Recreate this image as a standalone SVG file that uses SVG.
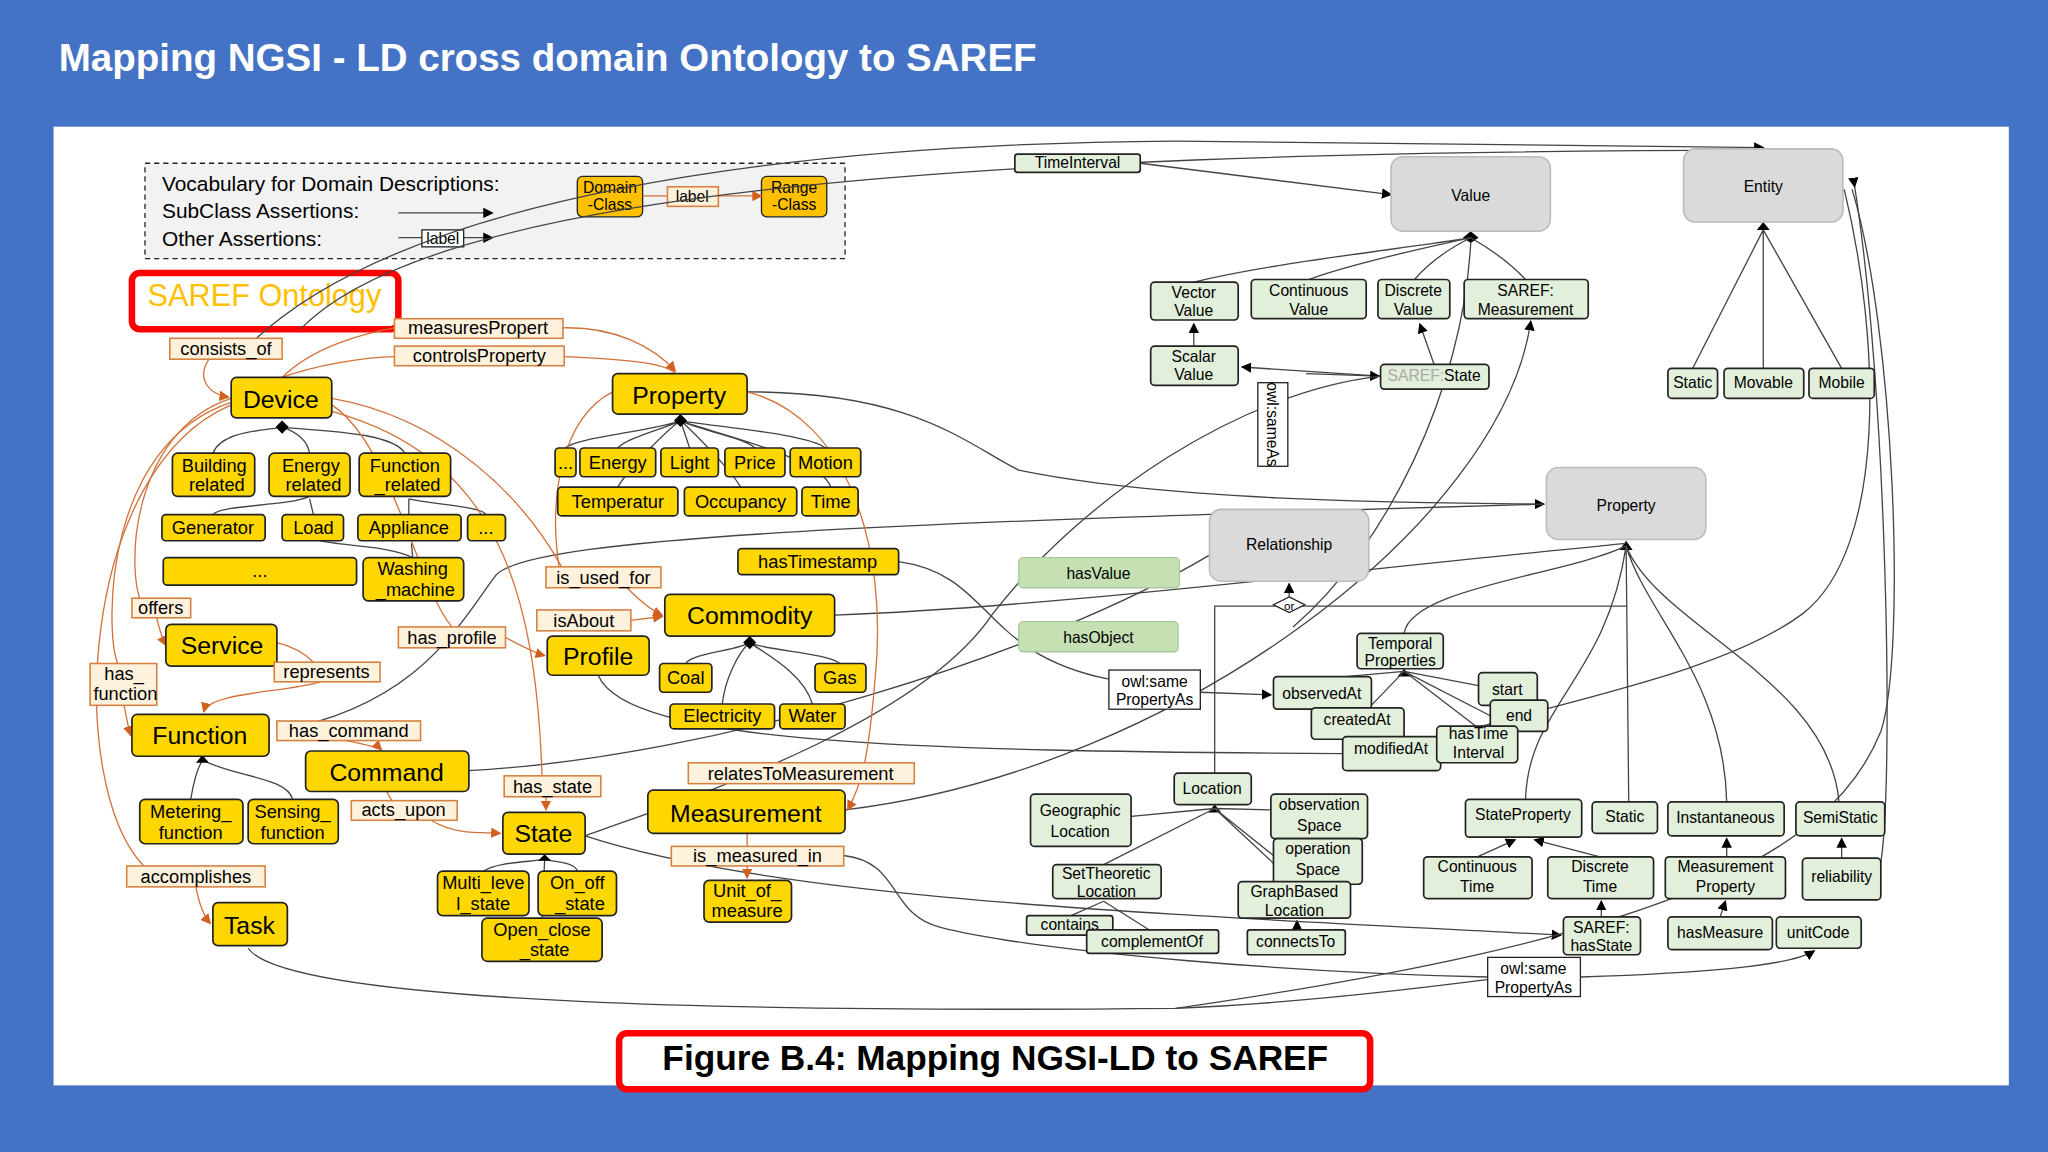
<svg xmlns="http://www.w3.org/2000/svg" width="2048" height="1152" viewBox="0 0 2048 1152">
<defs>
<style>
text{font-family:"Liberation Sans",Arial,sans-serif;}
.y{fill:#FFD700;stroke:#222;stroke-width:1.3}
.g{fill:#E2EFDA;stroke:#222;stroke-width:1.3}
.gr{fill:#DADADA;stroke:#bbb;stroke-width:1.2}
.hv{fill:#C6E0B4;stroke:#a9c99a;stroke-width:1}
.l{fill:#FFF2DC;stroke:#D7803F;stroke-width:1.2}
.w{fill:#fff;stroke:#222;stroke-width:1}
.ty{font-size:19px;fill:#000;text-anchor:middle}
.ts{font-size:14px;fill:#000;text-anchor:middle}
.tl{font-size:14px;fill:#000;text-anchor:middle}
.tg{font-size:12px;fill:#000;text-anchor:middle}
.k{fill:none;stroke:#444;stroke-width:1}
.o{fill:none;stroke:#D2713A;stroke-width:1}
</style>
<marker id="ab" markerWidth="8" markerHeight="8" refX="7" refY="4" orient="auto" markerUnits="userSpaceOnUse"><path d="M0,0 L8,4 L0,8 z" fill="#000"/></marker>
<marker id="ao" markerWidth="8" markerHeight="8" refX="7" refY="4" orient="auto" markerUnits="userSpaceOnUse"><path d="M0,0 L8,4 L0,8 z" fill="#D2601E"/></marker>
</defs>
<rect width="2048" height="1152" fill="#4472C4"/>
<g transform="scale(1.30612)">
<text x="45" y="54" font-size="29.5" font-weight="bold" fill="#fff">Mapping NGSI - LD cross domain Ontology to SAREF</text>
<rect x="41" y="97" width="1497" height="734" fill="#fff"/>

<g id="legend">
<rect x="111" y="125" width="536" height="73" fill="#f2f2f2" stroke="#222" stroke-dasharray="4,3"/>
<text x="124" y="146" font-size="16">Vocabulary for Domain Descriptions:</text>
<text x="124" y="167" font-size="16">SubClass Assertions:</text>
<text x="124" y="188" font-size="16">Other Assertions:</text>
<line x1="305" y1="163" x2="377" y2="163" class="k" marker-end="url(#ab)"/>
<line x1="305" y1="182" x2="377" y2="182" class="k" marker-end="url(#ab)"/>
<rect x="323" y="176" width="32" height="13" class="w"/><text x="339" y="187" font-size="12" text-anchor="middle">label</text>
<rect x="442" y="135" width="50" height="31" rx="4" fill="#FFC000" stroke="#222"/><text x="467" y="148" class="tg">Domain</text><text x="467" y="161" class="tg">-Class</text>
<rect x="583" y="135" width="50" height="31" rx="4" fill="#FFC000" stroke="#222"/><text x="608" y="148" class="tg">Range</text><text x="608" y="161" class="tg">-Class</text>
<line x1="492" y1="150" x2="583" y2="150" class="o" marker-end="url(#ao)"/>
<rect x="511" y="143" width="39" height="15" class="l"/><text x="530" y="155" class="tg">label</text>
</g>
<g id="saref-title"><rect x="101" y="209" width="204" height="43" rx="6" fill="#fff" stroke="#FF0000" stroke-width="5"/><text x="113" y="234" font-size="23.5" fill="#FFC000">SAREF Ontology</text></g>

<g id="connectors">
<path class="k" d="M185,270 C300,150 600,110 900,108 L1350,113" marker-end="url(#ab)"/>
<path class="k" d="M230,252 C330,150 700,116 1350,115"/>
<path class="k" d="M873,125 L1065,149" marker-end="url(#ab)"/>
<path class="k" d="M163,347 C170,330 200,330 216,327 M237,347 C235,335 225,330 216,327 M310,347 C300,330 240,330 216,327"/>
<path class="k" d="M163,394 C170,386 220,388 237,380 M240,394 L237,382 M313,394 L313,382 M372,394 C370,388 330,386 313,382" />
<path class="k" d="M316,427 C300,418 260,418 245,414 M316,427 L315,416"/>
<path class="k" d="M433,343 C440,335 500,330 521,322 M473,343 C480,335 510,328 521,322 M528,343 L521,322 M578,343 C570,335 530,328 521,322 M632,343 C620,332 540,326 521,322 M473,373 C480,360 510,330 521,322 M567,373 C560,360 530,330 521,322 M636,373 C630,350 540,330 521,322"/>
<path class="k" d="M525,508 C530,500 565,498 574,492 M643,508 C635,500 585,498 574,492 M553,539 C555,520 565,500 574,492 M622,539 C615,515 585,500 574,492"/>
<path class="k" d="M146,612 C148,600 150,590 155,582 M224,612 C220,595 180,595 155,582"/>
<path class="k" d="M370,667 C380,660 405,660 417,658 M442,667 C440,660 425,660 417,658 M415,703 L417,658"/>
<path d="M216,322 L221,327 L216,332 L211,327 z M521,317 L526,322 L521,327 L516,322 z M574,487 L579,492 L574,497 L569,492 z M155,578 L160,584 L150,584 z M417,654 L422,659 L412,659 z M1126,177 L1132,182 L1126,186 L1120,182 z M1350,170 L1355,176 L1345,176 z M1245,414 L1250,421 L1240,421 z M930,616 L935,622 L925,622 z M1075,512 L1080,518 L1070,518 z" fill="#000"/>
<path class="k" d="M914,216 C980,200 1080,190 1126,182 M1002,214 C1040,200 1100,188 1126,182 M1083,214 C1095,200 1110,190 1126,182 M1168,214 C1155,200 1140,190 1126,182"/>
<path class="k" d="M914,265 L914,248" marker-end="url(#ab)"/>
<path class="k" d="M1057,288 L951,281" marker-end="url(#ab)"/>
<path class="k" d="M1000,286 L1056,288" marker-end="url(#ab)"/>
<path class="k" d="M1098,279 L1087,248" marker-end="url(#ab)"/>
<path class="k" d="M1057,288 C950,300 830,380 760,470 C700,560 500,620 448,640"/>
<path class="k" d="M1296,282 L1350,176 M1350,282 L1350,176 M1410,282 L1350,176"/>
<path class="k" d="M572,300 C700,300 740,340 780,360 C900,385 1100,385 1182,386" marker-end="url(#ab)"/>
<path class="k" d="M212,560 C320,540 350,480 380,440 C410,410 700,400 1182,386"/>
<path class="k" d="M639,471 C800,465 1000,440 1245,416"/>
<path class="k" d="M688,430 C760,440 750,500 849,520"/>
<path class="k" d="M919,530 L973,532" marker-end="url(#ab)"/>
<path class="k" d="M1030,518 L1075,514 M1048,542 L1075,514 M1132,525 L1075,514 M1141,548 L1075,514 M1130,556 L1075,514"/>
<path class="k" d="M1075,485 C1080,450 1200,440 1245,418"/>
<path class="k" d="M1168,612 C1170,540 1230,520 1245,418 M1247,614 L1245,418 M1322,614 C1320,520 1260,470 1245,418 M1408,614 C1400,520 1270,480 1245,418"/>
<path class="k" d="M930,592 L930,464 L1245,464"/>
<path d="M987,457 L999,463 L987,469 L975,463 z" fill="#fff" stroke="#222"/>
<text x="987" y="467" font-size="9" text-anchor="middle">or</text>
<path class="k" d="M987,457 L987,447" marker-end="url(#ab)"/>
<path class="k" d="M866,625 L930,619 M973,620 L930,619 M975,655 L930,619 M845,662 L930,619 M990,675 L930,619"/>
<path class="k" d="M820,701 L845,690 M880,712 L845,690" />
<path class="k" d="M993,712 L993,705" marker-end="url(#ab)"/>
<path class="k" d="M1131,656 L1160,643" marker-end="url(#ab)"/>
<path class="k" d="M1225,656 L1175,643" marker-end="url(#ab)"/>
<path class="k" d="M1226,702 L1226,690" marker-end="url(#ab)"/>
<path class="k" d="M1322,656 L1322,642" marker-end="url(#ab)"/>
<path class="k" d="M1317,702 L1321,690" marker-end="url(#ab)"/>
<path class="k" d="M1410,657 L1410,642" marker-end="url(#ab)"/>
<path class="k" d="M1210,748 C1300,745 1370,740 1389,728" marker-end="url(#ab)"/>
<path class="k" d="M190,726 C220,770 600,775 900,772 C1000,768 1100,755 1139,750"/>
<path class="k" d="M448,640 C600,690 900,700 1195,716" marker-end="url(#ab)"/>
<path class="k" d="M647,620 C900,590 1150,400 1172,246" marker-end="url(#ab)"/>
<path class="k" d="M359,590 C550,580 800,500 926,425"/>
<path class="k" d="M458,517 C480,570 700,575 1028,577"/>
<path class="k" d="M646,655 C690,660 680,700 720,710 C800,730 1000,745 1139,748"/>
<path class="k" d="M1418,145 C1450,250 1460,500 1440,560 C1400,660 1260,720 900,772"/>
<path class="k" d="M1412,145 C1440,260 1445,420 1380,470 C1300,530 1100,550 1050,590"/>
<path class="k" d="M1420,143 C1445,300 1450,600 1440,660" marker-start="url(#ab)"/>
<path class="k" d="M1126,186 C1120,300 1060,420 990,480"/>
<path class="o" d="M160,275 C150,290 160,302 175,304" marker-end="url(#ao)"/>
<path class="o" d="M216,289 C240,265 280,255 302,251 M431,251 C470,250 500,265 517,284" marker-end="url(#ao)"/>
<path class="o" d="M216,289 C240,280 280,273 302,273 M432,273 C480,275 510,278 517,286"/>
<path class="o" d="M177,305 C100,330 95,440 110,465 M120,473 C122,482 124,488 127,494" marker-end="url(#ao)"/>
<path class="o" d="M177,308 C80,340 80,480 90,508 M95,540 C97,550 98,556 100,563" marker-end="url(#ao)"/>
<path class="o" d="M177,310 C60,360 50,600 110,663 M150,679 C152,690 155,700 161,707" marker-end="url(#ao)"/>
<path class="o" d="M212,492 C225,495 235,502 240,507 M245,522 C220,530 160,530 156,545" marker-end="url(#ao)"/>
<path class="o" d="M254,310 C300,340 320,450 346,480 M387,488 C400,495 410,500 417,502" marker-end="url(#ao)"/>
<path class="o" d="M254,305 C340,320 400,380 430,434 M480,450 C490,460 500,468 507,471" marker-end="url(#ao)"/>
<path class="o" d="M483,475 L507,472" marker-end="url(#ao)"/>
<path class="o" d="M572,300 C650,320 680,420 670,520 C665,580 660,600 649,620" marker-end="url(#ao)"/>
<path class="o" d="M469,300 C430,320 420,380 428,434"/>
<path class="o" d="M265,567 C280,570 290,572 292,574" marker-end="url(#ao)"/>
<path class="o" d="M296,606 L300,613 M330,628 C350,640 370,637 383,638" marker-end="url(#ao)"/>
<path class="o" d="M254,315 C380,350 410,450 415,594 M418,610 L418,620" marker-end="url(#ao)"/>
<path class="o" d="M572,638 L572,648 M572,663 L572,672" marker-end="url(#ao)"/>
</g>

<g id="device"><rect x="177" y="289" width="77" height="31" rx="4" class="y"/><text x="215" y="312" class="ty" font-size="21">Device</text></g>
<g id="property-y"><rect x="469" y="286" width="103" height="31" rx="4" class="y"/><text x="520" y="309" class="ty" font-size="21">Property</text></g>
<g id="building"><rect x="132" y="347" width="63" height="33" rx="4" class="y"/><text x="164" y="361" class="ts">Building</text><text x="166" y="376" class="ts">related</text></g>
<g id="energy-rel"><rect x="206" y="347" width="62" height="33" rx="4" class="y"/><text x="238" y="361" class="ts">Energy</text><text x="240" y="376" class="ts">related</text></g>
<g id="function-rel"><rect x="275" y="347" width="70" height="33" rx="4" class="y"/><text x="310" y="361" class="ts">Function</text><text x="312" y="376" class="ts">_related</text></g>
<g id="generator"><rect x="124" y="394" width="79" height="20" rx="3" class="y"/><text x="163" y="409" class="ts">Generator</text></g>
<g id="load"><rect x="216" y="394" width="47" height="20" rx="3" class="y"/><text x="240" y="409" class="ts">Load</text></g>
<g id="appliance"><rect x="274" y="394" width="79" height="20" rx="3" class="y"/><text x="313" y="409" class="ts">Appliance</text></g>
<g id="dots1"><rect x="358" y="394" width="29" height="20" rx="3" class="y"/><text x="372" y="409" class="ts">...</text></g>
<g id="dots2"><rect x="125" y="427" width="148" height="21" rx="3" class="y"/><text x="199" y="442" class="ts">...</text></g>
<g id="washing"><rect x="278" y="427" width="77" height="33" rx="4" class="y"/><text x="316" y="440" class="ts">Washing</text><text x="318" y="456" class="ts">_machine</text></g>
<g id="p-dots"><rect x="425" y="343" width="16" height="22" rx="3" class="y"/><text x="433" y="359" class="ts">...</text></g>
<g id="p-energy"><rect x="444" y="343" width="58" height="22" rx="3" class="y"/><text x="473" y="359" class="ts">Energy</text></g>
<g id="p-light"><rect x="506" y="343" width="44" height="22" rx="3" class="y"/><text x="528" y="359" class="ts">Light</text></g>
<g id="p-price"><rect x="555" y="343" width="46" height="22" rx="3" class="y"/><text x="578" y="359" class="ts">Price</text></g>
<g id="p-motion"><rect x="605" y="343" width="54" height="22" rx="3" class="y"/><text x="632" y="359" class="ts">Motion</text></g>
<g id="p-temp"><rect x="427" y="373" width="92" height="22" rx="3" class="y"/><text x="473" y="389" class="ts">Temperatur</text></g>
<g id="p-occ"><rect x="524" y="373" width="86" height="22" rx="3" class="y"/><text x="567" y="389" class="ts">Occupancy</text></g>
<g id="p-time"><rect x="614" y="373" width="43" height="22" rx="3" class="y"/><text x="636" y="389" class="ts">Time</text></g>
<g id="hastimestamp"><rect x="565" y="420" width="123" height="20" rx="3" class="y"/><text x="626" y="435" class="ts">hasTimestamp</text></g>
<g id="service"><rect x="127" y="478" width="85" height="32" rx="4" class="y"/><text x="170" y="501" class="ty">Service</text></g>
<g id="commodity"><rect x="509" y="455" width="130" height="32" rx="4" class="y"/><text x="574" y="478" class="ty" font-size="21">Commodity</text></g>
<g id="profile"><rect x="419" y="487" width="78" height="30" rx="4" class="y"/><text x="458" y="509" class="ty">Profile</text></g>
<g id="coal"><rect x="505" y="508" width="40" height="22" rx="3" class="y"/><text x="525" y="524" class="ts">Coal</text></g>
<g id="gas"><rect x="624" y="508" width="39" height="22" rx="3" class="y"/><text x="643" y="524" class="ts">Gas</text></g>
<g id="electricity"><rect x="513" y="539" width="80" height="19" rx="3" class="y"/><text x="553" y="553" class="ts">Electricity</text></g>
<g id="water"><rect x="597" y="539" width="50" height="19" rx="3" class="y"/><text x="622" y="553" class="ts">Water</text></g>
<g id="function"><rect x="101" y="547" width="105" height="32" rx="4" class="y"/><text x="153" y="570" class="ty">Function</text></g>
<g id="command"><rect x="234" y="575" width="125" height="31" rx="4" class="y"/><text x="296" y="598" class="ty">Command</text></g>
<g id="measurement"><rect x="496" y="605" width="151" height="33" rx="4" class="y"/><text x="571" y="629" class="ty" font-size="21">Measurement</text></g>
<g id="metering"><rect x="107" y="612" width="79" height="34" rx="4" class="y"/><text x="146" y="626" class="ts">Metering_</text><text x="146" y="642" class="ts">function</text></g>
<g id="sensing"><rect x="190" y="612" width="69" height="34" rx="4" class="y"/><text x="224" y="626" class="ts">Sensing_</text><text x="224" y="642" class="ts">function</text></g>
<g id="state"><rect x="385" y="622" width="63" height="32" rx="4" class="y"/><text x="416" y="645" class="ty">State</text></g>
<g id="unit"><rect x="539" y="674" width="67" height="32" rx="4" class="y"/><text x="572" y="687" class="ts">Unit_of_</text><text x="572" y="702" class="ts">measure</text></g>
<g id="multi"><rect x="335" y="667" width="70" height="34" rx="4" class="y"/><text x="370" y="681" class="ts">Multi_leve</text><text x="370" y="697" class="ts">l_state</text></g>
<g id="onoff"><rect x="412" y="667" width="60" height="34" rx="4" class="y"/><text x="442" y="681" class="ts">On_off</text><text x="444" y="697" class="ts">_state</text></g>
<g id="openclose"><rect x="369" y="703" width="92" height="33" rx="4" class="y"/><text x="415" y="717" class="ts">Open_close</text><text x="417" y="732" class="ts">_state</text></g>
<g id="task"><rect x="163" y="691" width="57" height="33" rx="4" class="y"/><text x="191" y="715" class="ty">Task</text></g>

<g id="lbl-measures"><rect x="302" y="244" width="129" height="15" class="l"/><text x="366" y="256" class="tl">measuresPropert</text></g>
<g id="lbl-controls"><rect x="302" y="265" width="130" height="15" class="l"/><text x="367" y="277" class="tl">controlsProperty</text></g>
<g id="lbl-consists"><rect x="130" y="259" width="86" height="16" class="l"/><text x="173" y="272" class="tl">consists_of</text></g>
<g id="lbl-isused"><rect x="418" y="434" width="88" height="16" class="l"/><text x="462" y="447" class="tl">is_used_for</text></g>
<g id="lbl-offers"><rect x="101" y="458" width="45" height="15" class="l"/><text x="123" y="470" class="tl">offers</text></g>
<g id="lbl-hasfunction"><rect x="69" y="508" width="51" height="32" class="l"/><text x="95" y="521" class="tl">has_</text><text x="96" y="536" class="tl">function</text></g>
<g id="lbl-represents"><rect x="210" y="507" width="81" height="15" class="l"/><text x="250" y="519" class="tl">represents</text></g>
<g id="lbl-isabout"><rect x="411" y="467" width="72" height="16" class="l"/><text x="447" y="480" class="tl">isAbout</text></g>
<g id="lbl-hasprofile"><rect x="305" y="480" width="82" height="16" class="l"/><text x="346" y="493" class="tl">has_profile</text></g>
<g id="lbl-hascommand"><rect x="212" y="552" width="110" height="15" class="l"/><text x="267" y="564" class="tl">has_command</text></g>
<g id="lbl-relates"><rect x="527" y="584" width="173" height="16" class="l"/><text x="613" y="597" class="tl">relatesToMeasurement</text></g>
<g id="lbl-hasstate"><rect x="386" y="594" width="74" height="16" class="l"/><text x="423" y="607" class="tl">has_state</text></g>
<g id="lbl-actsupon"><rect x="269" y="613" width="81" height="15" class="l"/><text x="309" y="625" class="tl">acts_upon</text></g>
<g id="lbl-measuredin"><rect x="514" y="648" width="132" height="15" class="l"/><text x="580" y="660" class="tl">is_measured_in</text></g>
<g id="lbl-accomplishes"><rect x="97" y="663" width="106" height="16" class="l"/><text x="150" y="676" class="tl">accomplishes</text></g>

<g id="timeinterval"><rect x="777" y="118" width="96" height="14" rx="2" class="g"/><text x="825" y="129" class="tg">TimeInterval</text></g>
<g id="value"><rect x="1065" y="120" width="122" height="57" rx="9" class="gr"/><text x="1126" y="154" class="tg" font-size="13">Value</text></g>
<g id="entity"><rect x="1289" y="114" width="122" height="56" rx="9" class="gr"/><text x="1350" y="147" class="tg" font-size="13">Entity</text></g>
<g id="vector"><rect x="881" y="216" width="67" height="29" rx="3" class="g"/><text x="914" y="228" class="tg">Vector</text><text x="914" y="242" class="tg">Value</text></g>
<g id="continuous-v"><rect x="958" y="214" width="88" height="30" rx="3" class="g"/><text x="1002" y="227" class="tg">Continuous</text><text x="1002" y="241" class="tg">Value</text></g>
<g id="discrete-v"><rect x="1055" y="214" width="55" height="30" rx="3" class="g"/><text x="1082" y="227" class="tg">Discrete</text><text x="1082" y="241" class="tg">Value</text></g>
<g id="saref-meas"><rect x="1121" y="214" width="95" height="30" rx="3" class="g"/><text x="1168" y="227" class="tg" fill="#aaa">SAREF:</text><text x="1168" y="241" class="tg">Measurement</text></g>
<g id="scalar"><rect x="881" y="265" width="67" height="30" rx="3" class="g"/><text x="914" y="277" class="tg">Scalar</text><text x="914" y="291" class="tg">Value</text></g>
<g id="saref-state"><rect x="1057" y="279" width="83" height="19" rx="3" class="g"/><text x="1098" y="292" class="tg"><tspan fill="#aaa">SAREF:</tspan>State</text></g>
<g id="sameas"><rect x="963" y="293" width="23" height="64" fill="#fff" stroke="#222"/><text transform="translate(970,325) rotate(90)" class="tg">owl:sameAs</text></g>
<g id="static-e"><rect x="1277" y="282" width="38" height="23" rx="3" class="g"/><text x="1296" y="297" class="tg">Static</text></g>
<g id="movable"><rect x="1320" y="282" width="61" height="23" rx="3" class="g"/><text x="1350" y="297" class="tg">Movable</text></g>
<g id="mobile"><rect x="1385" y="282" width="50" height="23" rx="3" class="g"/><text x="1410" y="297" class="tg">Mobile</text></g>
<g id="property-g"><rect x="1184" y="358" width="122" height="55" rx="9" class="gr"/><text x="1245" y="391" class="tg" font-size="13">Property</text></g>
<g id="relationship"><rect x="926" y="390" width="122" height="55" rx="9" class="gr"/><text x="987" y="421" class="tg" font-size="13">Relationship</text></g>
<g id="hasvalue"><rect x="780" y="427" width="123" height="23" rx="3" class="hv"/><text x="841" y="443" class="tg">hasValue</text></g>
<g id="hasobject"><rect x="780" y="476" width="122" height="23" rx="3" class="hv"/><text x="841" y="492" class="tg">hasObject</text></g>
<g id="sameprop1"><rect x="849" y="513" width="70" height="30" class="w"/><text x="884" y="526" class="tg">owl:same</text><text x="884" y="540" class="tg">PropertyAs</text></g>
<g id="temporal"><rect x="1039" y="485" width="66" height="27" rx="3" class="g"/><text x="1072" y="497" class="tg">Temporal</text><text x="1072" y="510" class="tg">Properties</text></g>
<g id="observedat"><rect x="975" y="518" width="75" height="25" rx="3" class="g"/><text x="1012" y="535" class="tg">observedAt</text></g>
<g id="createdat"><rect x="1004" y="542" width="71" height="24" rx="3" class="g"/><text x="1039" y="555" class="tg">createdAt</text></g>
<g id="modifiedat"><rect x="1028" y="564" width="75" height="26" rx="3" class="g"/><text x="1065" y="577" class="tg">modifiedAt</text></g>
<g id="start"><rect x="1132" y="515" width="45" height="25" rx="3" class="g"/><text x="1154" y="532" class="tg">start</text></g>
<g id="end"><rect x="1141" y="536" width="44" height="24" rx="3" class="g"/><text x="1163" y="552" class="tg">end</text></g>
<g id="hastime"><rect x="1100" y="556" width="62" height="28" rx="3" class="g"/><text x="1132" y="566" class="tg">hasTime</text><text x="1132" y="580" class="tg">Interval</text></g>
<g id="location"><rect x="899" y="592" width="59" height="24" rx="3" class="g"/><text x="928" y="608" class="tg">Location</text></g>
<g id="geographic"><rect x="789" y="608" width="77" height="40" rx="3" class="g"/><text x="827" y="625" class="tg">Geographic</text><text x="827" y="641" class="tg">Location</text></g>
<g id="obsspace"><rect x="973" y="608" width="74" height="34" rx="3" class="g"/><text x="1010" y="620" class="tg">observation</text><text x="1010" y="636" class="tg">Space</text></g>
<g id="opspace"><rect x="975" y="642" width="68" height="35" rx="3" class="g"/><text x="1009" y="654" class="tg">operation</text><text x="1009" y="670" class="tg">Space</text></g>
<g id="settheoretic"><rect x="806" y="662" width="83" height="26" rx="3" class="g"/><text x="847" y="673" class="tg">SetTheoretic</text><text x="847" y="687" class="tg">Location</text></g>
<g id="graphbased"><rect x="948" y="675" width="86" height="28" rx="3" class="g"/><text x="991" y="687" class="tg">GraphBased</text><text x="991" y="701" class="tg">Location</text></g>
<g id="contains"><rect x="786" y="701" width="66" height="15" rx="2" class="g"/><text x="819" y="712" class="tg">contains</text></g>
<g id="complementof"><rect x="832" y="712" width="101" height="18" rx="2" class="g"/><text x="882" y="725" class="tg">complementOf</text></g>
<g id="connectsto"><rect x="955" y="712" width="75" height="19" rx="2" class="g"/><text x="992" y="725" class="tg">connectsTo</text></g>
<g id="stateprop"><rect x="1122" y="612" width="89" height="29" rx="3" class="g"/><text x="1166" y="628" class="tg">StateProperty</text></g>
<g id="static-p"><rect x="1219" y="614" width="50" height="24" rx="3" class="g"/><text x="1244" y="629" class="tg">Static</text></g>
<g id="instant"><rect x="1277" y="614" width="89" height="26" rx="3" class="g"/><text x="1321" y="630" class="tg">Instantaneous</text></g>
<g id="semistatic"><rect x="1375" y="614" width="68" height="26" rx="3" class="g"/><text x="1409" y="630" class="tg">SemiStatic</text></g>
<g id="conttime"><rect x="1090" y="656" width="83" height="32" rx="3" class="g"/><text x="1131" y="668" class="tg">Continuous</text><text x="1131" y="683" class="tg">Time</text></g>
<g id="disctime"><rect x="1185" y="656" width="81" height="32" rx="3" class="g"/><text x="1225" y="668" class="tg">Discrete</text><text x="1225" y="683" class="tg">Time</text></g>
<g id="measprop"><rect x="1275" y="656" width="92" height="32" rx="3" class="g"/><text x="1321" y="668" class="tg">Measurement</text><text x="1321" y="683" class="tg">Property</text></g>
<g id="reliability"><rect x="1380" y="657" width="60" height="32" rx="3" class="g"/><text x="1410" y="675" class="tg">reliability</text></g>
<g id="saref-hasstate"><rect x="1197" y="702" width="59" height="29" rx="3" class="g"/><text x="1226" y="714" class="tg" fill="#aaa">SAREF:</text><text x="1226" y="728" class="tg">hasState</text></g>
<g id="hasmeasure"><rect x="1277" y="702" width="80" height="25" rx="3" class="g"/><text x="1317" y="718" class="tg">hasMeasure</text></g>
<g id="unitcode"><rect x="1360" y="702" width="65" height="24" rx="3" class="g"/><text x="1392" y="718" class="tg">unitCode</text></g>
<g id="sameprop2"><rect x="1139" y="733" width="71" height="30" class="w"/><text x="1174" y="746" class="tg">owl:same</text><text x="1174" y="760" class="tg">PropertyAs</text></g>

<g id="caption"><rect x="474" y="791" width="575" height="43" rx="6" fill="#fff" stroke="#FF0000" stroke-width="5"/><text x="762" y="819" font-size="27" font-weight="bold" text-anchor="middle">Figure B.4: Mapping NGSI-LD to SAREF</text></g>
</g>
</svg>
